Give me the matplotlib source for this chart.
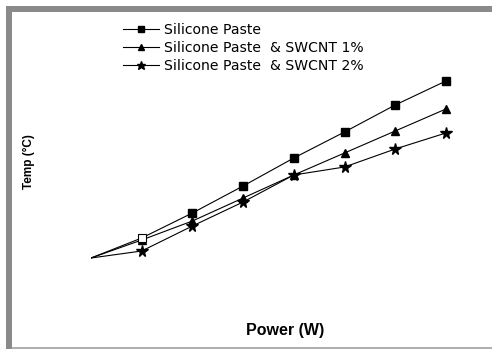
import numpy as np
import matplotlib
matplotlib.use('Agg')
import matplotlib.pyplot as plt
from matplotlib.lines import Line2D

plt.rcParams['font.family'] = ['Liberation Sans', 'DejaVu Sans']

# values (no axis scale shown, arbitrary units)
power = [0, 1, 2, 3, 4, 5, 6, 7]
temp_paste = [30.0, 34.0, 39.0, 44.4, 50.0, 55.2, 60.6, 65.4]
temp_swcnt1 = [30.0, 33.6, 37.4, 42.0, 46.6, 51.0, 55.4, 59.8]
temp_swcnt2 = [30.0, 31.4, 36.4, 41.2, 46.6, 48.2, 51.8, 55.0]
labels = ['Silicone Paste', 'Silicone Paste  & SWCNT 1%', 'Silicone Paste  & SWCNT 2%']

W, H = 492, 349
fig = plt.figure(figsize=(W/100, H/100), dpi=100)
fig.patch.set_facecolor('white')

# axes placed in pixel terms
ax_l, ax_r, ax_t, ax_b = 91, 480, 12, 312
ax = fig.add_axes([ax_l/W, 1-ax_b/H, (ax_r-ax_l)/W, (ax_b-ax_t)/H])
ax.set_xlim(0, (ax_r-ax_l)/50.7)
ax.set_ylim(30+(258-312)*0.2, 30+(258-12)*0.2)
for s in ax.spines.values():
	s.set_visible(False)
ax.set_xticks([])
ax.set_yticks([])

lw = 0.8
ax.plot(power, temp_paste, '-', color='black', lw=lw, marker='s', ms=6, markevery=range(2, 8), label=labels[0], zorder=3)
ax.plot(power, temp_swcnt1, '-', color='black', lw=lw, marker='^', ms=6, markevery=range(1, 8), label=labels[1], zorder=2)
ax.plot(power, temp_swcnt2, '-', color='black', lw=lw, marker='*', ms=8.5, markevery=range(1, 8), label=labels[2], zorder=2)
# the second square is drawn open in the original
ax.plot(power[1], temp_paste[1], 's', ms=6, mfc='white', mec='black', mew=0.8, zorder=4)

leg = ax.legend(loc='upper left', bbox_to_anchor=(123/W, 1-23/H), bbox_transform=fig.transFigure,
	frameon=False, prop={'family': 'DejaVu Sans', 'size': 10.1}, handlelength=2.6, handletextpad=0.33,
	labelspacing=0.28, borderpad=0, borderaxespad=0, markerscale=0.75)

ax.set_xlabel('Power (W)', fontsize=11.5, fontweight='bold')
ax.xaxis.set_label_coords(0.5, -(330-312)/(ax_b-ax_t), transform=ax.transAxes)
ax.xaxis.label.set_va('center')
ax.set_ylabel('Temp (°C)', fontsize=8.5, fontweight='bold')
ax.yaxis.set_label_coords(-(91-29)/(ax_r-ax_l), 0.5)
ax.yaxis.label.set_va('center')

# grey frame around the picture
grey = '#8a8a8a'
fig.add_artist(plt.Rectangle((6/W, 0), 6/W, 1-6/H, transform=fig.transFigure, color=grey, lw=0))
fig.add_artist(plt.Rectangle((6/W, 1-12/H), 1-6/W, 6/H, transform=fig.transFigure, color=grey, lw=0))
fig.add_artist(Line2D([12/W, 1], [1.5/H, 1.5/H], transform=fig.transFigure, color='#a0a0a0', lw=1.2))

fig.savefig('out.png', dpi=100)
